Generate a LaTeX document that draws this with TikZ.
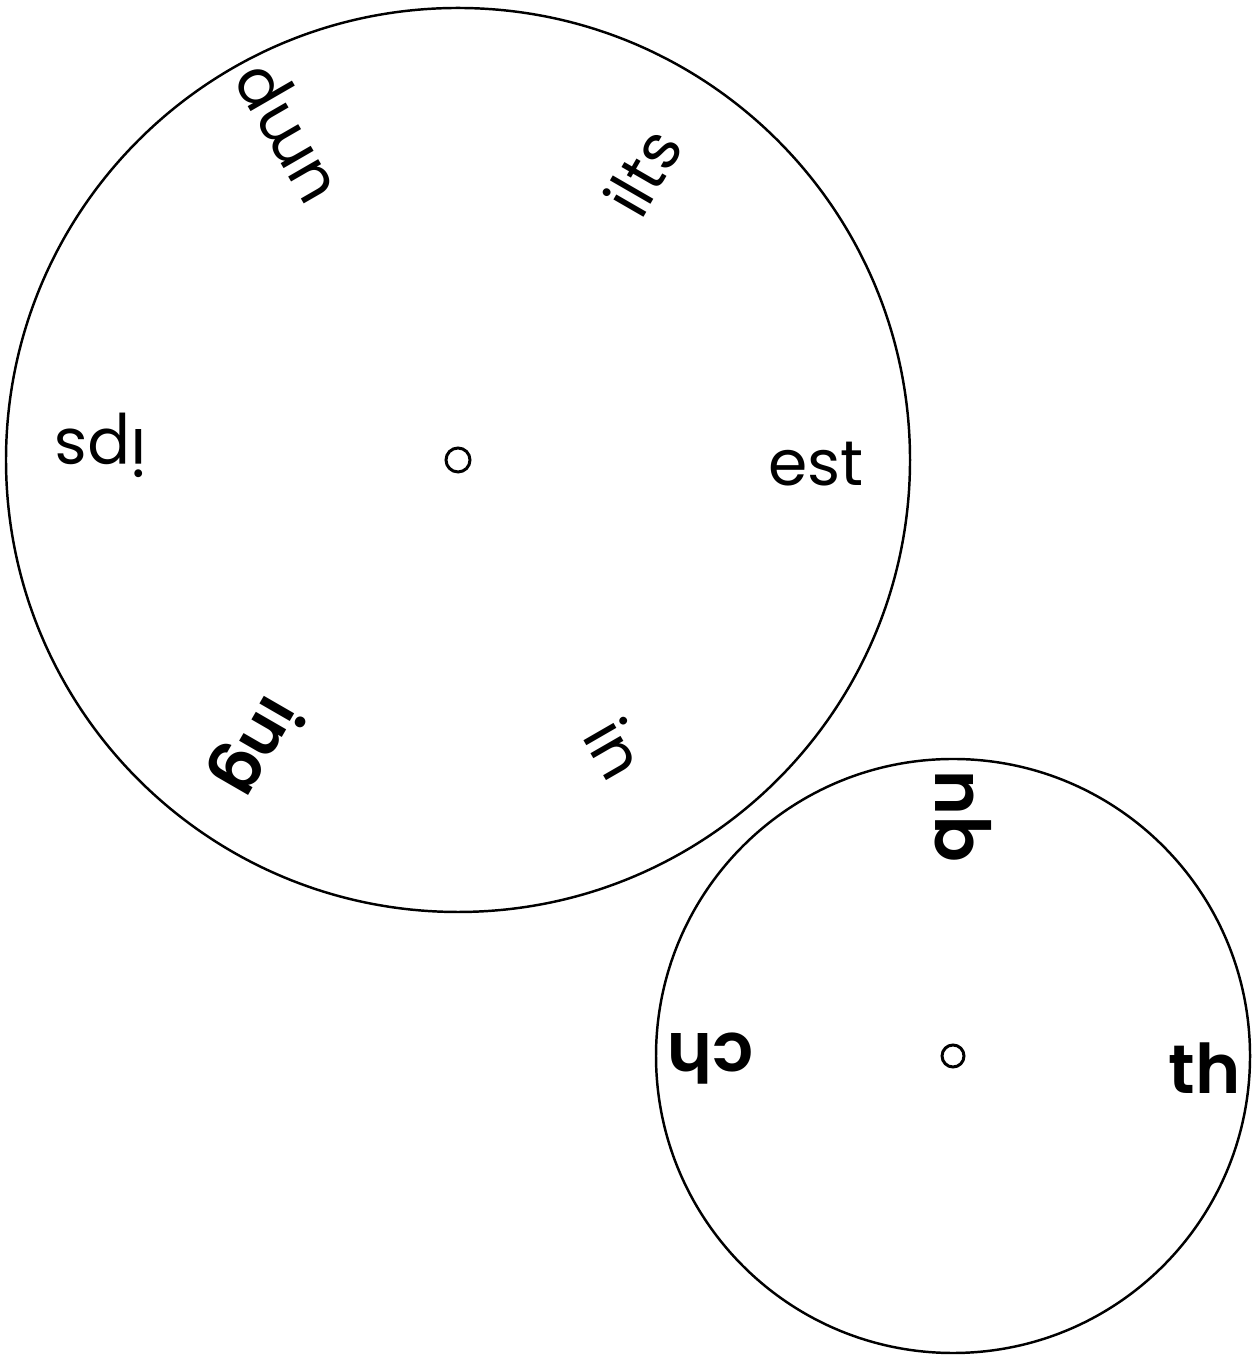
\documentclass[tikz,border=0pt]{standalone}
\usepackage{fontspec}
\setmainfont{Poppins}[BoldFont=* SemiBold]
\usetikzlibrary{calc}
\tikzset{
  wheel/.style={draw=black, line width=0.7pt},
  hub/.style={draw=black, line width=0.85pt},
  rime/.style={inner sep=0pt, font=\fontsize{18}{18}\selectfont},
  rimebold/.style={rime, font=\fontsize{18}{18}\selectfont\bfseries},
  onset/.style={inner sep=0pt, font=\fontsize{19.5}{19.5}\selectfont\bfseries},
}
\begin{document}
\begin{tikzpicture}
  \useasboundingbox (0,0) rectangle (12.57,13.58);
  \coordinate (bigc) at (4.58,8.98);
  \coordinate (smallc) at (9.53,3.02);

  \draw[wheel] (bigc) circle (4.52);
  \draw[wheel] (smallc) circle (2.97);
  \draw[hub] (bigc) circle (0.12);
  \draw[hub] (smallc) circle (0.11);

  % rimes round the big wheel
  \foreach \ang/\dist/\rot/\word/\sty in {
      -0.6/3.58/0/est/rime,
      57.4/3.42/60/ilts/rime,
      116.9/3.69/120/ump/rime,
      177.6/3.58/180/ips/rime,
      234.6/3.50/240/ing/rimebold,
      298.7/3.29/300/in/rime} {
    \node[\sty, rotate=\rot] (rime-\word) at ($(bigc)+(\ang:\dist)$) {\word};
  }

  % onsets round the small wheel
  \node[onset] (onset-th) at ($(smallc)+(-2.7:2.52)$) {th};
  \node[onset, rotate=90] (onset-qu) at ($(smallc)+(87.6:2.40)$) {qu};
  \node[onset, rotate=180] (onset-ch) at ($(smallc)+(180.5:2.43)$) {ch};
\end{tikzpicture}
\end{document}
